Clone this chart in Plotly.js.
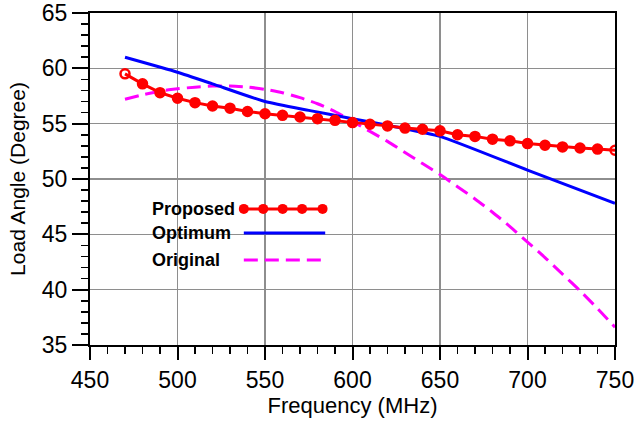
<!DOCTYPE html>
<html>
<head>
<meta charset="utf-8">
<script src="https://cdn.plot.ly/plotly-3.0.1.min.js"></script>
<style>html,body{margin:0;padding:0;background:#fff;}#chart{width:638px;height:422px;}</style>
</head>
<body>
<div id="chart"></div>
<script>
// ---- data ----
const proposedFreq = [470,480,490,500,510,520,530,540,550,560,570,580,590,600,610,620,630,640,650,660,670,680,690,700,710,720,730,740,750];
const proposedAngle = [59.5,58.6,57.8,57.3,56.9,56.6,56.4,56.1,55.9,55.75,55.6,55.45,55.3,55.1,54.95,54.8,54.6,54.5,54.35,54.0,53.85,53.6,53.45,53.2,53.05,52.9,52.8,52.7,52.6];

const optimumFreq = [470,500,520,550,575,600,625,650,700,750];
const optimumAngle = [61.0,59.65,58.6,57.0,56.2,55.45,54.7,53.85,50.8,47.8];

const originalFreq = [470,480,490,500,510,520,530,540,550,560,570,580,590,600,610,620,630,640,650,660,670,680,690,700,710,720,730,740,750];
const originalAngle = [57.2,57.6,57.95,58.15,58.3,58.4,58.4,58.3,58.1,57.8,57.35,56.8,56.1,55.2,54.3,53.4,52.4,51.4,50.4,49.3,48.2,47.0,45.7,44.3,42.9,41.4,39.9,38.3,36.6];

const seriesNames = ["Proposed","Optimum","Original"];
const xTicks = [450,500,550,600,650,700,750];
const yTicks = [35,40,45,50,55,60,65];

// ---- styling ----
const RED = "#ff0000", BLUE = "#0000ff", MAG = "#ff00ff";
const FONT = "Arial, 'Liberation Sans', sans-serif";
const lastIdx = proposedFreq.length - 1;
const propSymbols = proposedFreq.map((f,i) => (i === 0 || i === lastIdx) ? "circle-open" : "circle");

const traces = [
  {x: originalFreq, y: originalAngle, mode: "lines", name: seriesNames[2],
   line: {color: MAG, width: 3, dash: "14px,7px", shape: "spline", smoothing: 0.6}},
  {x: optimumFreq, y: optimumAngle, mode: "lines", name: seriesNames[1],
   line: {color: BLUE, width: 3, shape: "spline", smoothing: 0.5}},
  {x: proposedFreq, y: proposedAngle, mode: "lines+markers", name: seriesNames[0],
   line: {color: RED, width: 3},
   marker: {color: RED, size: 9, symbol: propSymbols, line: {color: RED, width: 2.5}}},
  // legend samples drawn on a hidden overlay axis (0..1 fractions of the plot area)
  {x: [0.293,0.330,0.367,0.404,0.443], y: [0.41,0.41,0.41,0.41,0.41], xaxis: "x2", yaxis: "y2",
   mode: "lines+markers", line: {color: RED, width: 3}, marker: {color: RED, size: 10}, hoverinfo: "skip"},
  {x: [0.293,0.448], y: [0.337,0.337], xaxis: "x2", yaxis: "y2",
   mode: "lines", line: {color: BLUE, width: 3}, hoverinfo: "skip"},
  {x: [0.293,0.448], y: [0.256,0.256], xaxis: "x2", yaxis: "y2",
   mode: "lines", line: {color: MAG, width: 3, dash: "14px,7px"}, hoverinfo: "skip"}
];

const legendY = [0.41, 0.337, 0.256];
const annotations = seriesNames.map((n,i) => ({
  text: "<b>" + n + "</b>", xref: "paper", yref: "paper", x: 0.114, y: legendY[i],
  xanchor: "left", yanchor: "middle", showarrow: false,
  font: {family: FONT, size: 18, color: "#000"}
}));

const layout = {
  width: 638, height: 422,
  margin: {l: 90, r: 23, t: 13, b: 77},
  paper_bgcolor: "#fff", plot_bgcolor: "#fff",
  showlegend: false,
  font: {family: FONT, color: "#000"},
  xaxis: {
    range: [450, 750], tickvals: xTicks, ticktext: xTicks.map(String),
    showgrid: true, gridcolor: "#8e8e8e", gridwidth: 1.6,
    showline: true, linecolor: "#000", linewidth: 2, mirror: true,
    ticks: "outside", ticklen: 13, tickwidth: 2, tickcolor: "#000",
    minor: {dtick: 10, ticks: "outside", ticklen: 7, tickwidth: 1.6, tickcolor: "#000", showgrid: false},
    tickfont: {family: FONT, size: 23, color: "#000"},
    ticklabelstandoff: 0,
    title: {text: "Frequency (MHz)", font: {family: FONT, size: 22, color: "#000"}, standoff: 2},
    zeroline: false, automargin: false
  },
  yaxis: {
    range: [35, 65], tickvals: yTicks, ticktext: yTicks.map(String),
    showgrid: true, gridcolor: "#8e8e8e", gridwidth: 1.6,
    showline: true, linecolor: "#000", linewidth: 2, mirror: true,
    ticks: "outside", ticklen: 16, tickwidth: 2, tickcolor: "#000",
    minor: {dtick: 1, ticks: "outside", ticklen: 7, tickwidth: 1.6, tickcolor: "#000", showgrid: false},
    tickfont: {family: FONT, size: 23, color: "#000"},
    ticklabelstandoff: 0,
    title: {text: "Load Angle (Degree)", font: {family: FONT, size: 21, color: "#000"}, standoff: 10},
    zeroline: false, automargin: false
  },
  xaxis2: {overlaying: "x", range: [0, 1], visible: false, fixedrange: true},
  yaxis2: {overlaying: "y", range: [0, 1], visible: false, fixedrange: true},
  annotations: annotations
};

Plotly.newPlot("chart", traces, layout, {staticPlot: true, displayModeBar: false});
</script>
</body>
</html>
